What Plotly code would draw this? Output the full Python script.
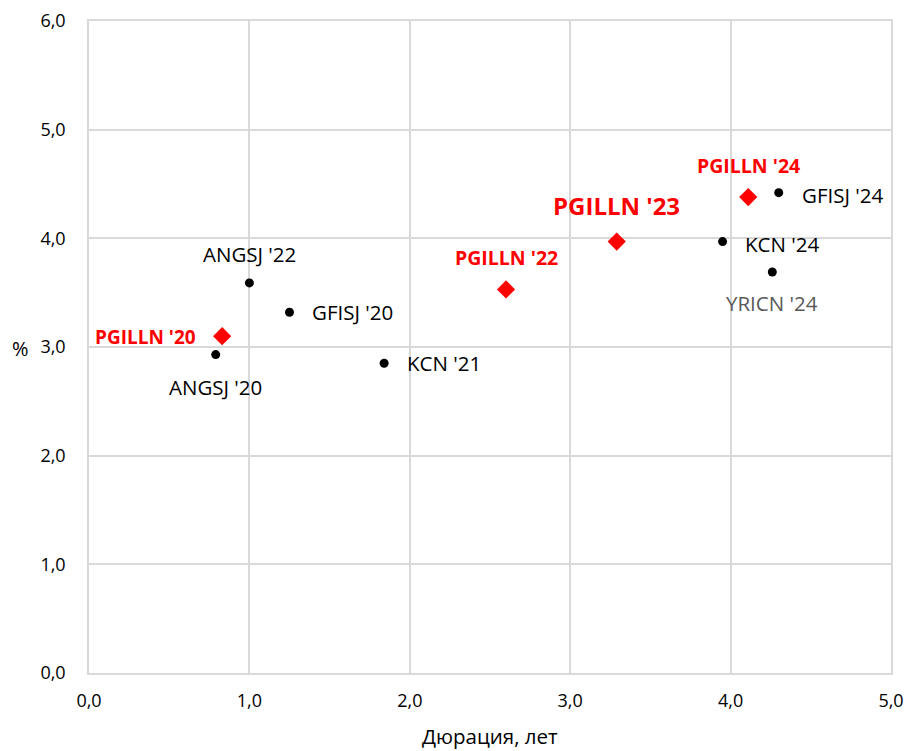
import plotly.graph_objects as go

# Data
peer_names = ["ANGSJ '20", "ANGSJ '22", "GFISJ '20", "KCN '21", "KCN '24", "GFISJ '24", "YRICN '24"]
peer_duration = [0.79, 1.00, 1.25, 1.84, 3.95, 4.30, 4.26]
peer_yield = [2.93, 3.59, 3.32, 2.85, 3.97, 4.42, 3.69]

pgil_names = ["PGILLN '20", "PGILLN '22", "PGILLN '23", "PGILLN '24"]
pgil_duration = [0.83, 2.60, 3.29, 4.11]
pgil_yield = [3.10, 3.53, 3.97, 4.38]

x_ticks = [0, 1, 2, 3, 4, 5]
y_ticks = [0, 1, 2, 3, 4, 5, 6]

FONT = "Open Sans"

fig = go.Figure()
fig.add_trace(go.Scatter(x=peer_duration, y=peer_yield, mode="markers",
                         marker=dict(symbol="circle", size=9, color="black"),
                         hoverinfo="skip", showlegend=False))
fig.add_trace(go.Scatter(x=pgil_duration, y=pgil_yield, mode="markers",
                         marker=dict(symbol="diamond", size=14, color="#ff0000"),
                         hoverinfo="skip", showlegend=False))

# label styles: (xanchor, xshift, yshift, color, size, bold)
peer_styles = [
    ("center", 0, -32, "black", 20.5, False),
    ("center", 0, 29, "black", 20.5, False),
    ("left", 20, 0, "black", 20.5, False),
    ("left", 21, 0, "black", 20.5, False),
    ("left", 20, -2, "black", 20.5, False),
    ("left", 21, -2, "black", 20.5, False),
    ("center", 0, -31, "#595959", 20.5, False),
]
pgil_styles = [
    ("right", -24, -1, "#ff0000", 19, True),
    ("center", 0, 32, "#ff0000", 19.5, True),
    ("center", 0, 36, "#ff0000", 24, True),
    ("center", 0, 32, "#ff0000", 19.5, True),
]

annotations = []
for names, xs, ys, styles in [(peer_names, peer_duration, peer_yield, peer_styles),
                              (pgil_names, pgil_duration, pgil_yield, pgil_styles)]:
    for n, x, y, (xa, xsh, ysh, col, sz, bold) in zip(names, xs, ys, styles):
        annotations.append(dict(
            x=x, y=y, xref="x", yref="y", showarrow=False,
            text=f"<b>{n}</b>" if bold else n,
            xanchor=xa, yanchor="middle", xshift=xsh, yshift=ysh,
            font=dict(family=FONT, size=sz, color=col)))

annotations.append(dict(x=-0.086, y=0.497, xref="paper", yref="paper", showarrow=False,
                        text="%", xanchor="center", yanchor="middle",
                        font=dict(family=FONT, size=20, color="black")))
annotations.append(dict(x=0.5, y=-0.097, xref="paper", yref="paper", showarrow=False,
                        text="Дюрация, лет", xanchor="center", yanchor="middle",
                        font=dict(family=FONT, size=20.5, color="black")))

grid = "#d9d9d9"
fig.update_layout(
    width=907, height=751,
    margin=dict(l=89, r=16, t=21, b=78),
    paper_bgcolor="white", plot_bgcolor="white",
    separators=", ",
    font=dict(family=FONT, size=18, color="black"),
    annotations=annotations,
    xaxis=dict(range=[0, 5], tickvals=x_ticks, tickformat=".1f", automargin=False,
               showgrid=True, gridcolor=grid, gridwidth=1.5,
               zeroline=False, showline=True, linecolor=grid, linewidth=1.5, mirror=True,
               ticks="", ticklabelstandoff=11, tickfont=dict(family=FONT, size=18)),
    yaxis=dict(range=[0, 6], tickvals=y_ticks, tickformat=".1f", automargin=False,
               showgrid=True, gridcolor=grid, gridwidth=1.5,
               zeroline=False, showline=True, linecolor=grid, linewidth=1.5, mirror=True,
               ticks="", ticklabelstandoff=18, tickfont=dict(family=FONT, size=18)),
)

fig.write_html("out.html", config={"displayModeBar": False},
               post_script="document.body.style.margin='0';document.body.style.overflow='hidden';")
